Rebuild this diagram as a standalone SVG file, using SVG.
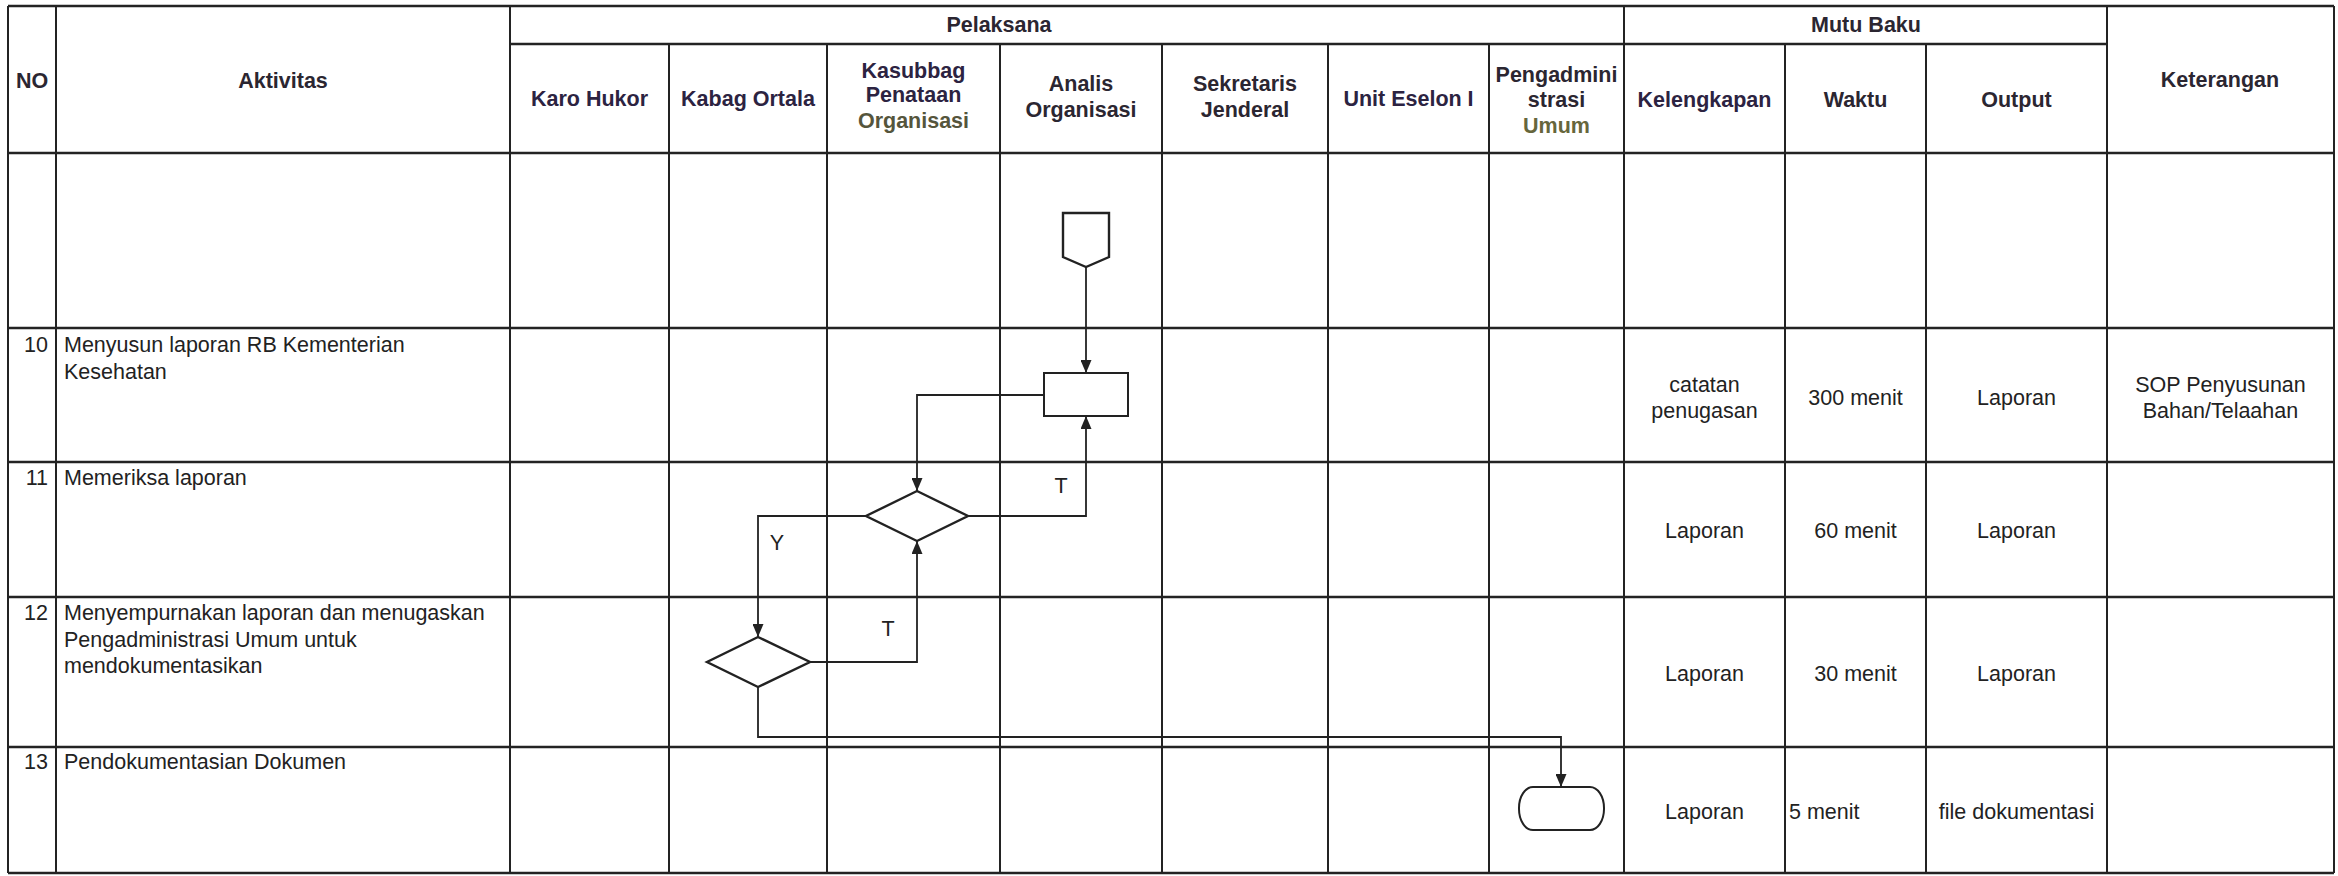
<svg xmlns="http://www.w3.org/2000/svg" width="2338" height="876" viewBox="0 0 2338 876">
<style>
.gl{stroke:#232323;stroke-width:2;fill:none}
.gh{stroke:#232323;stroke-width:2.6;fill:none}
.h{font-family:"Liberation Sans",Arial,sans-serif;font-weight:bold;font-size:21.5px;fill:#2b2631;text-anchor:middle}
.hp{fill:#2c2341}
.ho{fill:#55553c}
.t{font-family:"Liberation Sans",Arial,sans-serif;font-size:21.5px;fill:#222}
.c{text-anchor:middle}
.e{text-anchor:end}
.flow{stroke:#222;stroke-width:1.8;fill:none}
.shape{stroke:#222;stroke-width:2.4;fill:#fff}
</style>
<defs>
<marker id="arr" viewBox="0 0 13 11" refX="13" refY="5.5" markerWidth="13" markerHeight="11" markerUnits="userSpaceOnUse" orient="auto">
<path d="M0,0 L13,5.5 L0,11 z" fill="#222"/>
</marker>
</defs>
<rect width="2338" height="876" fill="#fff"/>
<g id="table">
<path class="gh" d="M8,6H2334M510,44H2107M8,153H2334M8,328H2334M8,462H2334M8,597H2334M8,747H2334M8,873H2334"/>
<path class="gl" d="M8,6V873M56,6V873M510,6V873M669,44V873M827,44V873M1000,44V873M1162,44V873M1328,44V873M1489,44V873M1624,6V873M1785,44V873M1926,44V873M2107,6V873M2334,6V873"/>
</g>
<g id="header">
<text class="h" x="32" y="88">NO</text>
<text class="h" x="283" y="88">Aktivitas</text>
<text class="h" x="999" y="32">Pelaksana</text>
<text class="h" x="1866" y="32">Mutu Baku</text>
<text class="h" x="2220" y="87">Keterangan</text>
<text class="h hp" x="589.5" y="106">Karo Hukor</text>
<text class="h hp" x="748" y="106">Kabag Ortala</text>
<text class="h hp" x="913.5" y="78">Kasubbag</text>
<text class="h hp" x="913.5" y="102">Penataan</text>
<text class="h ho" x="913.5" y="128">Organisasi</text>
<text class="h" x="1081" y="91">Analis</text>
<text class="h" x="1081" y="117">Organisasi</text>
<text class="h" x="1245" y="91">Sekretaris</text>
<text class="h" x="1245" y="117">Jenderal</text>
<text class="h hp" x="1408.5" y="106">Unit Eselon I</text>
<text class="h" x="1556.5" y="82">Pengadmini</text>
<text class="h" x="1556.5" y="107">strasi</text>
<text class="h ho" x="1556.5" y="133" style="fill:#66663c">Umum</text>
<text class="h hp" x="1704.5" y="107">Kelengkapan</text>
<text class="h" x="1855.5" y="107">Waktu</text>
<text class="h" x="2016.5" y="107">Output</text>
</g>
<g id="rows">
<text class="t e" x="48" y="352">10</text>
<text class="t" x="64" y="352">Menyusun laporan RB Kementerian</text>
<text class="t" x="64" y="379">Kesehatan</text>
<text class="t c" x="1704.5" y="392">catatan</text>
<text class="t c" x="1704.5" y="418">penugasan</text>
<text class="t c" x="1855.5" y="405">300 menit</text>
<text class="t c" x="2016.5" y="405">Laporan</text>
<text class="t c" x="2220.5" y="392">SOP Penyusunan</text>
<text class="t c" x="2220.5" y="418">Bahan/Telaahan</text>
<text class="t e" x="48" y="485">11</text>
<text class="t" x="64" y="485">Memeriksa laporan</text>
<text class="t c" x="1704.5" y="538">Laporan</text>
<text class="t c" x="1855.5" y="538">60 menit</text>
<text class="t c" x="2016.5" y="538">Laporan</text>
<text class="t e" x="48" y="620">12</text>
<text class="t" x="64" y="620">Menyempurnakan laporan dan menugaskan</text>
<text class="t" x="64" y="647">Pengadministrasi Umum untuk</text>
<text class="t" x="64" y="673">mendokumentasikan</text>
<text class="t c" x="1704.5" y="681">Laporan</text>
<text class="t c" x="1855.5" y="681">30 menit</text>
<text class="t c" x="2016.5" y="681">Laporan</text>
<text class="t e" x="48" y="769">13</text>
<text class="t" x="64" y="769">Pendokumentasian Dokumen</text>
<text class="t c" x="1704.5" y="819">Laporan</text>
<text class="t" x="1789" y="819">5 menit</text>
<text class="t c" x="2016.5" y="819">file dokumentasi</text>
</g>
<g id="connectors">
<path class="flow" d="M1086,267V373" marker-end="url(#arr)"/>
<path class="flow" d="M1044,395H917V491" marker-end="url(#arr)"/>
<path class="flow" d="M968,516H1086V416" marker-end="url(#arr)"/>
<path class="flow" d="M866,516H758V637" marker-end="url(#arr)"/>
<path class="flow" d="M810,662H917V541" marker-end="url(#arr)"/>
<path class="flow" d="M758,687V737H1561V787" marker-end="url(#arr)"/>
<text class="t c" x="1061" y="493">T</text>
<text class="t c" x="777" y="550">Y</text>
<text class="t c" x="888" y="636">T</text>
</g>
<g id="n-connector"><polygon class="shape" points="1063,213 1109,213 1109,257 1086,267 1063,257"/></g>
<g id="n-proses"><rect class="shape" x="1044" y="373" width="84" height="43" style="stroke-width:2"/></g>
<g id="n-decision1"><polygon class="shape" points="917,491 968,516 917,541 866,516"/></g>
<g id="n-decision2"><polygon class="shape" points="758,637 810,662 758,687 707,662"/></g>
<g id="n-terminator"><rect class="shape" x="1519" y="787" width="85" height="43" rx="14" ry="21" style="stroke-width:2"/></g>
</svg>
